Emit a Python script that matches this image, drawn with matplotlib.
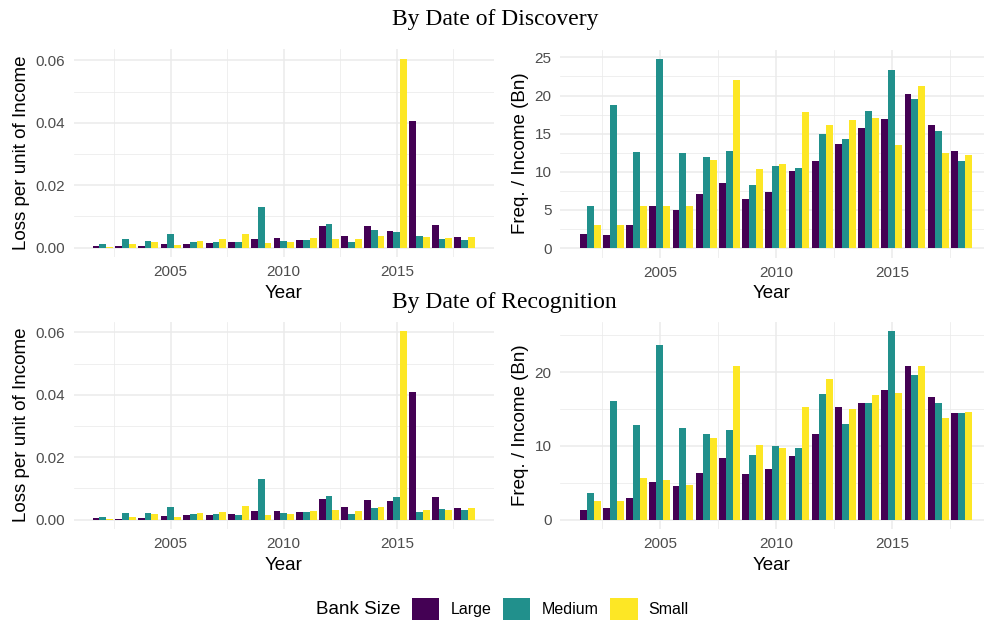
import numpy as np
import matplotlib
matplotlib.use("Agg")
import matplotlib.pyplot as plt
from matplotlib.ticker import MultipleLocator

years = list(range(2002, 2019))
sizes = ["Large", "Medium", "Small"]
colors = ["#440154", "#21908C", "#FDE725"]

# By Date of Discovery
disc_loss_large = [0.0005, 0.0005, 0.0005, 0.0012, 0.0012, 0.0015, 0.0018, 0.0028, 0.0031, 0.0025, 0.0070, 0.0037, 0.0070, 0.0053, 0.0406, 0.0073, 0.0034]
disc_loss_medium = [0.0012, 0.0028, 0.0021, 0.0044, 0.0018, 0.0018, 0.0018, 0.0130, 0.0021, 0.0025, 0.0076, 0.0018, 0.0057, 0.0050, 0.0037, 0.0028, 0.0025]
disc_loss_small = [0.0002, 0.0012, 0.0018, 0.0009, 0.0021, 0.0028, 0.0044, 0.0015, 0.0018, 0.0031, 0.0028, 0.0028, 0.0037, 0.0605, 0.0034, 0.0031, 0.0034]

disc_freq_large = [1.8, 1.7, 3.0, 5.5, 5.0, 7.1, 8.5, 6.4, 7.4, 10.1, 11.4, 13.7, 15.8, 16.9, 20.2, 16.2, 12.7]
disc_freq_medium = [5.5, 18.8, 12.6, 24.8, 12.5, 12.0, 12.7, 8.3, 10.8, 10.5, 15.0, 14.3, 18.0, 23.4, 19.6, 15.4, 11.4]
disc_freq_small = [3.0, 3.0, 5.5, 5.5, 5.5, 11.6, 22.1, 10.4, 11.0, 17.9, 16.2, 16.8, 17.1, 13.5, 21.3, 12.5, 12.2]

# By Date of Recognition
rec_loss_large = [0.0005, 0.0002, 0.0005, 0.0012, 0.0015, 0.0015, 0.0018, 0.0028, 0.0028, 0.0025, 0.0066, 0.0041, 0.0063, 0.0060, 0.0410, 0.0073, 0.0037]
rec_loss_medium = [0.0009, 0.0021, 0.0021, 0.0041, 0.0018, 0.0018, 0.0015, 0.0130, 0.0021, 0.0025, 0.0076, 0.0018, 0.0037, 0.0073, 0.0025, 0.0034, 0.0031]
rec_loss_small = [0.0002, 0.0009, 0.0018, 0.0009, 0.0021, 0.0025, 0.0044, 0.0015, 0.0018, 0.0028, 0.0031, 0.0028, 0.0041, 0.0605, 0.0031, 0.0031, 0.0037]

rec_freq_large = [1.3, 1.6, 2.9, 5.1, 4.6, 6.3, 8.4, 6.2, 6.9, 8.6, 11.6, 15.3, 15.8, 17.6, 20.9, 16.7, 14.5]
rec_freq_medium = [3.6, 16.1, 12.85, 23.7, 12.4, 11.6, 12.2, 8.8, 10.0, 9.7, 17.1, 13.0, 15.8, 25.6, 19.6, 15.8, 14.5]
rec_freq_small = [2.5, 2.5, 5.7, 5.4, 4.7, 11.1, 20.9, 10.1, 9.7, 15.3, 19.1, 15.0, 16.9, 17.2, 20.9, 13.8, 14.6]

W, H = 984, 623
fig = plt.figure(figsize=(W / 100, H / 100), dpi=100)
fig.patch.set_facecolor("white")

SANS = "Liberation Sans"
SERIF = "Liberation Serif"
TICK_FS = 11
TITLE_FS = 13.5


def px_axes(x0, y0, x1, y1):
    return fig.add_axes([x0 / W, 1 - y1 / H, (x1 - x0) / W, (y1 - y0) / H])


def draw_panel(ax, series, ylabel, major, minor, ymax_data, fmt, xlim):
    x = np.array(years, dtype=float)
    bw = 0.3
    handles = []
    for i, (vals, c) in enumerate(zip(series, colors)):
        h = ax.bar(x + (i - 1) * bw, vals, width=bw, color=c, linewidth=0, zorder=3)
        handles.append(h)
    ax.set_xlim(*xlim)
    ax.set_ylim(-0.05 * ymax_data, 1.05 * ymax_data)
    ax.xaxis.set_major_locator(MultipleLocator(5))
    ax.xaxis.set_minor_locator(MultipleLocator(2.5))
    ax.yaxis.set_major_locator(MultipleLocator(major))
    ax.yaxis.set_minor_locator(MultipleLocator(minor))
    ax.grid(which="major", color="#EBEBEB", linewidth=1.1, zorder=0)
    ax.grid(which="minor", color="#EBEBEB", linewidth=0.55, zorder=0)
    ax.set_axisbelow(True)
    for s in ax.spines.values():
        s.set_visible(False)
    ax.tick_params(which="both", length=0)
    ax.tick_params(axis="both", labelsize=TICK_FS, labelcolor="#4D4D4D", pad=6)
    for lab in ax.get_xticklabels() + ax.get_yticklabels():
        lab.set_family(SANS)
    ax.yaxis.set_major_formatter(matplotlib.ticker.FuncFormatter(lambda v, p: fmt.format(v)))
    ax.set_xlabel("Year", fontsize=TITLE_FS, family=SANS, color="black", labelpad=4)
    ax.set_ylabel(ylabel, fontsize=TITLE_FS, family=SANS, color="black", labelpad=4)
    return handles


xlim_left = (2000.7, 2019.3)
xlim_right = (2000.7, 2000.7 + (984 - 560) / 23.2)

ax1 = px_axes(73.5, 49.5, 494, 257)
ax2 = px_axes(560, 49.5, 984, 257.5)
ax3 = px_axes(73.5, 321.5, 494, 529)
ax4 = px_axes(560, 321.5, 984, 529)

handles = draw_panel(ax1, [disc_loss_large, disc_loss_medium, disc_loss_small],
                     "Loss per unit of Income", 0.02, 0.01, 0.0605, "{:.2f}", xlim_left)
draw_panel(ax2, [disc_freq_large, disc_freq_medium, disc_freq_small],
           "Freq. / Income (Bn)", 5, 2.5, 24.8, "{:.0f}", xlim_right)
draw_panel(ax3, [rec_loss_large, rec_loss_medium, rec_loss_small],
           "Loss per unit of Income", 0.02, 0.01, 0.0605, "{:.2f}", xlim_left)
draw_panel(ax4, [rec_freq_large, rec_freq_medium, rec_freq_small],
           "Freq. / Income (Bn)", 10, 5, 25.6, "{:.0f}", xlim_right)

fig.text(392.5 / W, 1 - 25 / H, "By Date of Discovery", family=SERIF, fontsize=17,
         ha="left", va="baseline")
fig.text(392.5 / W, 1 - 308.5 / H, "By Date of Recognition", family=SERIF, fontsize=17,
         ha="left", va="baseline")

fig.text(358.5 / W, 1 - 609 / H, "Bank Size", family=SANS, fontsize=13.5, ha="center", va="center")
leg = fig.legend([h[0] for h in handles], sizes, loc="center left",
                 bbox_to_anchor=(412 / W, 1 - 609 / H), ncol=3, frameon=False,
                 prop={"family": SANS, "size": 11.5}, handlelength=1.7, handleheight=1.7,
                 columnspacing=0.75, handletextpad=0.7, borderaxespad=0, borderpad=0)

fig.savefig("out.png", dpi=100, facecolor="white")
